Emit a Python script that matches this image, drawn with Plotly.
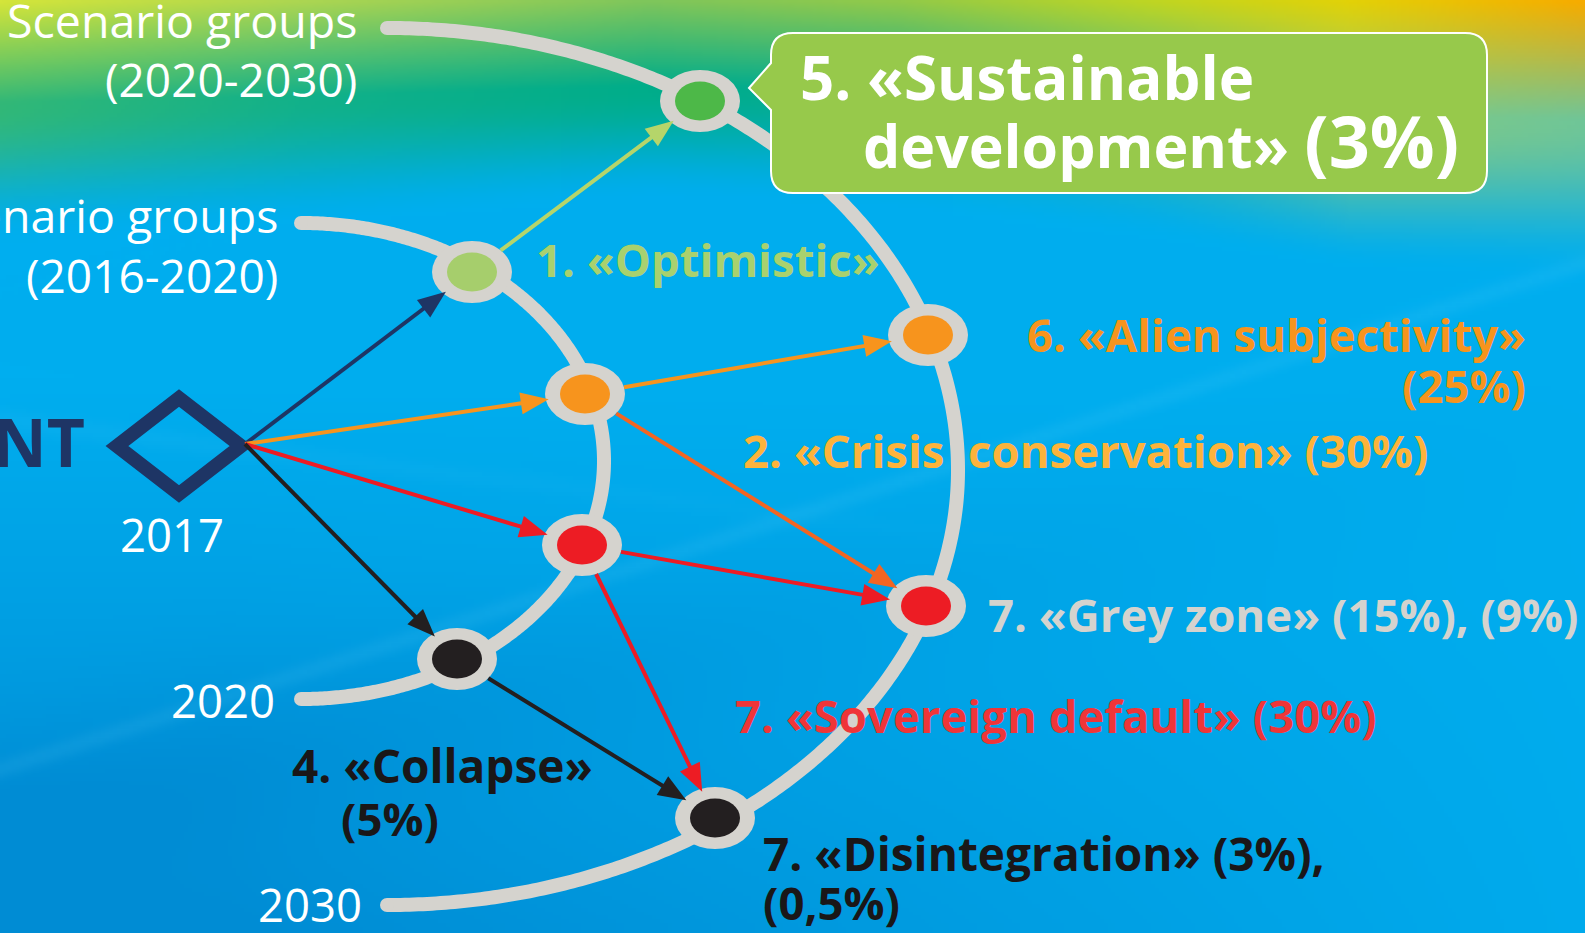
import base64
import struct
import zlib

import numpy as np
import plotly.graph_objects as go

# ---------------- data ----------------
# scenario nodes: id, x, y (diagram pixel coords), fill colour
node_ids = ["LG", "OI", "RI", "BI", "G", "OO", "RO", "BO"]
node_x = [472, 585, 582, 457, 700, 928, 926, 715]
node_y = [272, 394, 545, 659, 101, 335, 606, 818]
node_fill = ["#A6CE6C", "#F7941D", "#ED1C24", "#231F20",
             "#4DB848", "#F7941D", "#ED1C24", "#231F20"]

# start point (current moment, 2017) diamond
start_x = [179]
start_y = [446]

# transitions: from, to, colour
edge_from = ["D", "D", "D", "D", "LG", "OI", "OI", "RI", "RI", "BI"]
edge_to = ["LG", "OI", "RI", "BI", "G", "OO", "RO", "RO", "BO", "BO"]
edge_color = ["#1E3565", "#F7941D", "#ED1C24", "#231F20", "#B5D56A",
              "#F7941D", "#F26522", "#ED1C24", "#ED1C24", "#231F20"]

# scenario-group arcs: centre x, centre y, half width, top half height, bottom half height
arc_cx = [301, 387]
arc_cy = [461, 470]
arc_a = [303, 571]
arc_bt = [238, 442]
arc_bb = [238, 435]

# text labels: text, x, baseline y, anchor, size, bold, colour
label_text = [
    "Scenario groups", "(2020-2030)", "Scenario groups", "(2016-2020)",
    "NT", "2017", "2020", "2030",
    "1. «Optimistic»",
    "5. «Sustainable",
    "development» <span style='font-size:72px'>(3%)</span>",
    "6. «Alien subjectivity»", "(25%)",
    "2. «Crisis  conservation» (30%)",
    "7. «Grey zone» (15%), (9%)",
    "7. «Sovereign default» (30%)",
    "4. «Collapse»", "(5%)",
    "7. «Disintegration» (3%),", "(0,5%)",
]
label_x = [359, 359, 280, 280, 87, 172, 277, 364, 534, 798, 861,
           1528, 1528, 741, 986, 733, 290, 339, 761, 761]
label_base = [38, 97, 233, 293, 467, 552, 718, 922, 277, 100, 168,
              352, 403, 468, 632, 733, 783, 836, 871, 920]
label_anchor = ["right", "right", "right", "right", "right", "center", "right", "right",
                "left", "left", "left", "right", "right", "left", "left", "left",
                "left", "left", "left", "left"]
label_size = [46.5, 46, 46.5, 46, 66, 45.5, 45.5, 45.5, 45.5, 60, 59,
              45.5, 45.5, 45.5, 45.5, 45.5, 46, 45.5, 46, 45.5]
label_bbox_size = [46.5, 46, 46.5, 46, 66, 45.5, 45.5, 45.5, 45.5, 60, 72,
                   45.5, 45.5, 45.5, 45.5, 45.5, 46, 45.5, 46, 45.5]
label_bold = [False, False, False, False, True, False, False, False,
              True, True, True, True, True, True, True, True, True, True, True, True]
label_color = ["#FFFFFF", "#FFFFFF", "#FFFFFF", "#FFFFFF", "#1E3565", "#FFFFFF", "#FFFFFF", "#FFFFFF",
               "#A9D16E", "#FFFFFF", "#FFFFFF", "#F7941D", "#F7941D", "#FDB33B",
               "#D5D3CE", "#EF3538", "#1A1718", "#1A1718", "#1A1718", "#1A1718"]

# ---------------- styles ----------------
W, H = 1585, 933
GREY = "#D5D3CE"
NAVY = "#1E3565"
RING_RX, RING_RY = 40, 31
DOT_RX, DOT_RY = 25, 19.5
ARC_W = 14
ARROW_W = 4
HEAD_L, HEAD_HW = 28, 11


# ---------------- background image ----------------
def png_uri(rgb):
    h, w, _ = rgb.shape
    raw = b"".join(b"\x00" + rgb[i].tobytes() for i in range(h))

    def chunk(t, d):
        c = struct.pack(">I", len(d)) + t + d
        return c + struct.pack(">I", zlib.crc32(t + d) & 0xFFFFFFFF)

    png = (b"\x89PNG\r\n\x1a\n"
           + chunk(b"IHDR", struct.pack(">IIBBBBB", w, h, 8, 2, 0, 0, 0))
           + chunk(b"IDAT", zlib.compress(raw, 9))
           + chunk(b"IEND", b""))
    return "data:image/png;base64," + base64.b64encode(png).decode()


def interp_rgb(xq, xp, cols):
    cols = np.array(cols, dtype=float)
    return np.stack([np.interp(xq, xp, cols[:, k]) for k in range(3)], axis=-1)


bw, bh = 400, 236
gx = np.linspace(0, W, bw)
gy = np.linspace(0, H, bh)
X, Y = np.meshgrid(gx, gy)

stops_x = [0, 300, 650, 900, 1150, 1350, 1585]
top_c = [(212, 229, 58), (172, 214, 82), (126, 198, 92), (145, 202, 74),
         (190, 214, 36), (226, 210, 8), (247, 172, 0)]
mid_c = [(50, 184, 120), (18, 177, 138), (0, 173, 138), (8, 172, 148),
         (60, 182, 150), (130, 202, 132), (112, 198, 152)]
len_c = [240, 225, 200, 210, 240, 270, 280]

top = interp_rgb(X, stops_x, top_c)
mid = interp_rgb(X, stops_x, mid_c)
L = np.interp(X, stops_x, len_c)

# blue body
blue_hi = np.array([0, 174, 239], float)
blue_lo = np.array([0, 140, 212], float)
wdark = np.clip((Y - 380) / 550, 0, 1) * np.clip(1.15 - X / 1500, 0, 1)
wdark = wdark + 0.25 * np.exp(-((Y - (820 - 0.25 * X)) / 90) ** 2) * np.clip(1 - X / 1800, 0, 1)
wdark = np.clip(wdark, 0, 1)
blue = blue_hi * (1 - wdark[..., None]) + blue_lo * wdark[..., None]
# subtle light streaks
streak = 0.10 * np.exp(-((Y - (770 - 0.32 * X)) / 10) ** 2)
streak += 0.07 * np.exp(-((Y - (420 + 0.12 * X)) / 12) ** 2) * np.clip(1 - X / 1200, 0, 1)
blue = blue + streak[..., None] * (np.array([120, 220, 255]) - blue)

v = Y / L
t1 = np.clip(v / 0.42, 0, 1)[..., None]
c1 = top * (1 - t1) + mid * t1
t2 = np.clip((v - 0.42) / 0.58, 0, 1)[..., None]
t2 = t2 * t2 * (3 - 2 * t2)
c2 = mid * (1 - t2) + blue * t2
img = np.where((v < 0.42)[..., None], c1, c2)
img = np.clip(img, 0, 255).astype(np.uint8)
bg_uri = png_uri(img)

# ---------------- figure ----------------
fig = go.Figure()

# arcs (scenario group time lines)
for cx, cy, a, bt, bb in zip(arc_cx, arc_cy, arc_a, arc_bt, arc_bb):
    th = np.linspace(-np.pi / 2, np.pi / 2, 400)
    b = np.where(th < 0, bt, bb)
    ax_ = cx + a * np.cos(th)
    ay_ = cy + b * np.sin(th)
    fig.add_trace(go.Scatter(x=ax_, y=ay_, mode="lines",
                             line=dict(color=GREY, width=ARC_W, simplify=False),
                             hoverinfo="skip", showlegend=False))
    fig.add_trace(go.Scatter(x=[ax_[0], ax_[-1]], y=[ay_[0], ay_[-1]], mode="markers",
                             marker=dict(color=GREY, size=ARC_W, line=dict(width=0)),
                             hoverinfo="skip", showlegend=False))

shapes = []

# nodes
pos = {nid: (x, y) for nid, x, y in zip(node_ids, node_x, node_y)}
for nid, col in zip(node_ids, node_fill):
    x, y = pos[nid]
    shapes.append(dict(type="circle", xref="x", yref="y", x0=x - RING_RX, x1=x + RING_RX,
                       y0=y - RING_RY, y1=y + RING_RY, fillcolor=GREY, line=dict(width=0)))
    shapes.append(dict(type="circle", xref="x", yref="y", x0=x - DOT_RX, x1=x + DOT_RX,
                       y0=y - DOT_RY, y1=y + DOT_RY, fillcolor=col, line=dict(width=0)))

# diamond (current moment)
dcx, dcy = start_x[0], start_y[0]
dhw, dhh = 62, 48
shapes.append(dict(type="path", xref="x", yref="y",
                   path=f"M{dcx - dhw},{dcy} L{dcx},{dcy - dhh} L{dcx + dhw},{dcy} L{dcx},{dcy + dhh} Z",
                   line=dict(color=NAVY, width=14), fillcolor="rgba(0,0,0,0)"))
pos["D"] = (dcx + dhw + 4, dcy - 2)


def boundary(cx, cy, dx, dy, rx, ry):
    t = 1.0 / np.sqrt((dx / rx) ** 2 + (dy / ry) ** 2)
    return cx + dx * t, cy + dy * t


# arrows
for f, t, col in zip(edge_from, edge_to, edge_color):
    fx, fy = pos[f]
    tx, ty = pos[t]
    dx, dy = tx - fx, ty - fy
    if f == "D":
        sx, sy = fx, fy
    else:
        sx, sy = boundary(fx, fy, dx, dy, RING_RX, RING_RY)
    ex, ey = boundary(tx, ty, -dx, -dy, RING_RX - 3, RING_RY - 3)
    n = np.hypot(dx, dy)
    ux, uy = dx / n, dy / n
    bx, by = ex - ux * HEAD_L, ey - uy * HEAD_L
    shapes.append(dict(type="path", xref="x", yref="y",
                       path=f"M{sx:.1f},{sy:.1f} L{bx + ux * 2:.1f},{by + uy * 2:.1f}",
                       line=dict(color=col, width=ARROW_W)))
    p1 = (bx - uy * HEAD_HW, by + ux * HEAD_HW)
    p2 = (bx + uy * HEAD_HW, by - ux * HEAD_HW)
    shapes.append(dict(type="path", xref="x", yref="y",
                       path=f"M{ex:.1f},{ey:.1f} L{p1[0]:.1f},{p1[1]:.1f} L{p2[0]:.1f},{p2[1]:.1f} Z",
                       fillcolor=col, line=dict(width=0)))

# callout box for scenario 5
bx0, bx1, by0, by1, r = 771, 1487, 33, 193, 22
tipx, tipy, tb0, tb1 = 749, 88, 63, 110
box_path = (f"M{bx0 + r},{by0} L{bx1 - r},{by0} Q{bx1},{by0} {bx1},{by0 + r} "
            f"L{bx1},{by1 - r} Q{bx1},{by1} {bx1 - r},{by1} L{bx0 + r},{by1} "
            f"Q{bx0},{by1} {bx0},{by1 - r} L{bx0},{tb1} L{tipx},{tipy} L{bx0},{tb0} "
            f"L{bx0},{by0 + r} Q{bx0},{by0} {bx0 + r},{by0} Z")
shapes.append(dict(type="path", xref="x", yref="y", path=box_path,
                   fillcolor="#97C94B", line=dict(color="#FFFFFF", width=2)))

# labels
annotations = []
for txt, x, base, anc, size, bsize, bold, col in zip(label_text, label_x, label_base, label_anchor,
                                                    label_size, label_bbox_size, label_bold, label_color):
    annotations.append(dict(
        x=x, y=base - 0.388 * bsize, xref="x", yref="y", text=txt, showarrow=False,
        xanchor=anc, yanchor="middle", align=anc,
        font=dict(family="Open Sans", size=size, color=col, weight=700 if bold else 400),
    ))

fig.update_layout(
    width=W, height=H,
    margin=dict(l=0, r=0, t=0, b=0),
    paper_bgcolor="#00AEEF",
    plot_bgcolor="rgba(0,0,0,0)",
    xaxis=dict(range=[0, W], visible=False, fixedrange=True),
    yaxis=dict(range=[H, 0], visible=False, fixedrange=True),
    shapes=shapes,
    annotations=annotations,
    images=[dict(source=bg_uri, xref="paper", yref="paper", x=0, y=1, sizex=1, sizey=1,
                 xanchor="left", yanchor="top", sizing="stretch", layer="below")],
    showlegend=False,
)

fig.write_html("out.html", config={"displayModeBar": False},
               post_script="document.body.style.margin='0px';document.body.style.overflow='hidden';")
